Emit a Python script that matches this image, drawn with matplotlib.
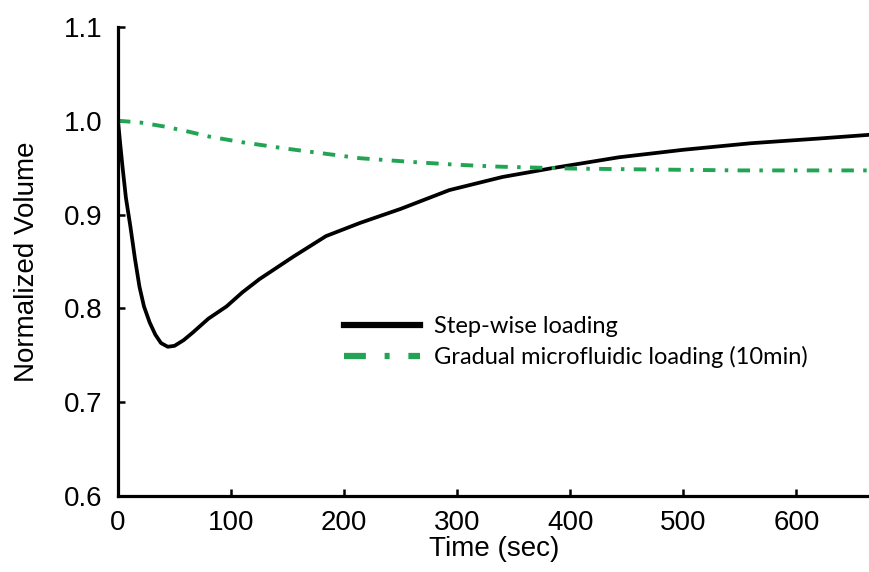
import matplotlib
matplotlib.use("Agg")
import matplotlib.pyplot as plt
from matplotlib.lines import Line2D

# step-wise loading: normalized volume vs time (s)
step_t = [0, 2, 4, 7, 11, 15, 19, 23, 28, 33, 38, 44, 50, 58, 66, 80, 96,
          110, 125, 155, 184, 214, 250, 293, 340, 382, 443, 500, 560, 620, 665]
step_v = [1.000, 0.975, 0.951, 0.918, 0.887, 0.853, 0.823, 0.802, 0.785,
          0.772, 0.763, 0.759, 0.760, 0.766, 0.774, 0.789, 0.802, 0.817,
          0.831, 0.855, 0.877, 0.891, 0.906, 0.926, 0.940, 0.949, 0.961,
          0.969, 0.976, 0.981, 0.985]

# gradual microfluidic loading (10 min)
grad_t = [0, 20, 40, 60, 81, 110, 150, 214, 260, 300, 337, 400, 470, 550, 665]
grad_v = [1.000, 0.998, 0.994, 0.989, 0.983, 0.977, 0.970, 0.960, 0.956,
          0.953, 0.951, 0.949, 0.948, 0.947, 0.947]

labels = ["Step-wise loading", "Gradual microfluidic loading (10min)"]
green = "#23a455"

plt.rcParams["font.family"] = ["Liberation Sans", "DejaVu Sans"]

fig = plt.figure(figsize=(8.7, 5.72), dpi=100, facecolor="white")
ax = fig.add_axes([0.1356, 0.133, 0.8644, 0.82])

ax.plot(step_t, step_v, color="black", lw=2.7, solid_capstyle="round")
ax.plot(grad_t, grad_v, color=green, lw=2.8, linestyle=(0, (3.2, 2.4, 0.9, 2.4)))

ax.set_xlim(0, 665)
ax.set_ylim(0.6, 1.1)
ax.set_xticks(range(0, 700, 100))
ax.set_yticks([0.6, 0.7, 0.8, 0.9, 1.0, 1.1])
ax.set_yticklabels(["0.6", "0.7", "0.8", "0.9", "1.0", "1.1"])

for side in ("top", "right"):
    ax.spines[side].set_visible(False)
for side in ("left", "bottom"):
    ax.spines[side].set_linewidth(2.3)

ax.tick_params(direction="in", length=5, width=1.8, labelsize=20)
ax.tick_params(axis="y", pad=11)
ax.tick_params(axis="x", pad=10)

ax.set_xlabel("Time (sec)", fontsize=20, labelpad=0)
ax.set_ylabel("Normalized Volume", fontsize=20, labelpad=17)

handles = [
    Line2D([], [], color="black", lw=4.5),
    Line2D([], [], color=green, lw=4.5, linestyle=(0, (3.5, 3, 0.8, 3))),
]
ax.legend(handles, labels, loc="upper left", bbox_to_anchor=(0.285, 0.408),
          frameon=False, handlelength=3.2, handletextpad=0.6,
          labelspacing=0.36, borderpad=0,
          prop={"family": "Lato", "size": 17})

fig.savefig("out.png", dpi=100, facecolor="white")
